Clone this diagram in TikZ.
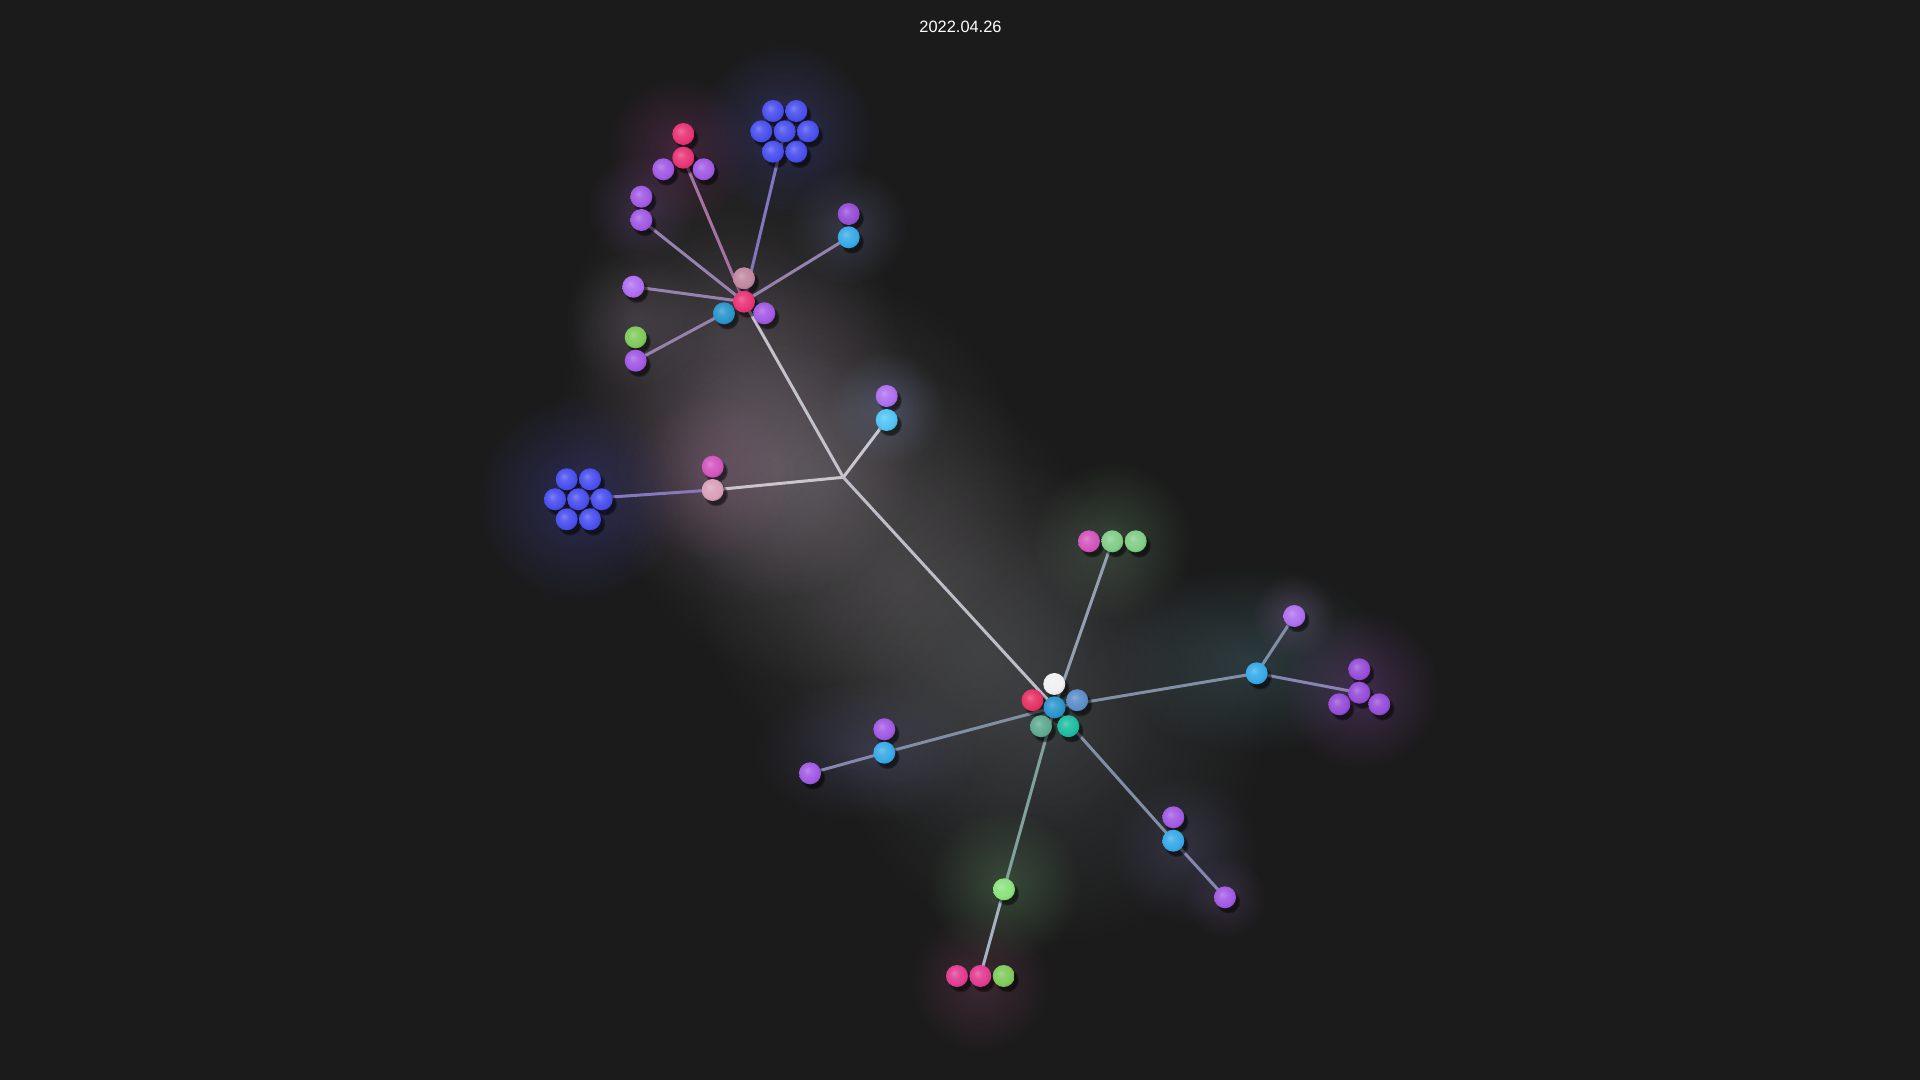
\documentclass[tikz,border=0pt]{standalone}
\usepackage{fontspec}
\setmainfont{Liberation Sans}
\usetikzlibrary{fadings,shadows}
\definecolor{bgc}{RGB}{27,27,27}
\colorlet{ballc}{white}
\pgfdeclareradialshading[ballc]{myball}{\pgfpoint{-7bp}{7bp}}{color(0bp)=(ballc!72!white); color(10bp)=(ballc!90!white); color(22bp)=(ballc); color(32bp)=(ballc!85!black); color(50bp)=(ballc!72!black)}
\tikzfading[name=glowfade, inner color=transparent!0, outer color=transparent!100]
\pgfdeclarelayer{bg}
\pgfdeclarelayer{glow}
\pgfdeclarelayer{links}
\pgfsetlayers{bg,glow,links,main}
% colours
\definecolor{cblue}{RGB}{74,80,238}
\definecolor{cpink}{RGB}{232,52,118}
\definecolor{cpurp}{RGB}{162,90,228}
\definecolor{cdpurp}{RGB}{150,78,215}
\definecolor{clpurp}{RGB}{175,110,240}
\definecolor{ccyan}{RGB}{56,170,232}
\definecolor{clcyan}{RGB}{82,195,245}
\definecolor{cmauve}{RGB}{192,136,158}
\definecolor{cgreen}{RGB}{128,202,92}
\definecolor{clgreen}{RGB}{140,226,125}
\definecolor{cmint}{RGB}{130,205,135}
\definecolor{cmag}{RGB}{210,85,190}
\definecolor{clpink}{RGB}{218,160,186}
\definecolor{cwhite}{RGB}{240,240,242}
\definecolor{csteel}{RGB}{92,142,200}
\definecolor{csage}{RGB}{95,170,145}
\definecolor{cteal}{RGB}{30,190,160}
\definecolor{chub}{RGB}{42,150,205}
\definecolor{cred}{RGB}{230,50,100}
\definecolor{crose}{RGB}{225,60,145}
\definecolor{lnpurp}{RGB}{150,130,175}
\definecolor{lntrunk}{RGB}{200,200,206}
\definecolor{lnblue}{RGB}{128,143,165}
% glow colours
\definecolor{gA}{RGB}{150,145,150}
\definecolor{gB}{RGB}{140,110,135}
\definecolor{gC}{RGB}{165,155,165}
\definecolor{gD}{RGB}{140,60,120}
\definecolor{gE}{RGB}{75,75,170}
\definecolor{gF}{RGB}{110,115,160}
\definecolor{gG}{RGB}{125,85,155}
\definecolor{gH}{RGB}{120,110,125}
\definecolor{gI}{RGB}{65,65,160}
\definecolor{gJ}{RGB}{160,105,145}
\definecolor{gK}{RGB}{115,135,175}
\definecolor{gL}{RGB}{115,155,115}
\definecolor{gM}{RGB}{75,115,125}
\definecolor{gN}{RGB}{125,70,155}
\definecolor{gO}{RGB}{145,115,165}
\definecolor{gP}{RGB}{100,110,115}
\definecolor{gQ}{RGB}{95,95,145}
\definecolor{gR}{RGB}{100,100,150}
\definecolor{gS}{RGB}{100,150,100}
\definecolor{gT}{RGB}{135,70,105}
\definecolor{gU}{RGB}{120,90,150}
\tikzset{
  ball/.style={circle, inner sep=0pt, minimum size=11pt, /utils/exec={\colorlet{ballc}{#1}}, shading=myball,
    drop shadow={shadow xshift=1.4pt, shadow yshift=-1.9pt, shadow scale=1.12, opacity=0.55, fill=black, path fading=circle with fuzzy edge 20 percent}},
  link/.style={line width=1.5pt, draw=#1, line cap=round},
  glow/.style={fill=#1, path fading=glowfade},
}
\begin{document}
\begin{tikzpicture}[x=0.5pt,y=-0.5pt]
\begin{pgfonlayer}{bg}
\fill[bgc] (0,0) rectangle (1920,1080);
\end{pgfonlayer}
\useasboundingbox (0,0) rectangle (1920,1080);
\node[text=white, font=\fontsize{8.2}{10}\selectfont] (title) at (960.5,26.5) {2022.04.26};
% ---- top group
\node[ball=cpink] (tpk1) at (683.3,134) {};
\node[ball=cpink] (tpk2) at (683.3,157.7) {};
\node[ball=cpurp] (tpu1) at (663.3,169.3) {};
\node[ball=cpurp] (tpu2) at (703.7,169.3) {};
\node[ball=cblue] (tb1) at (773,111) {};
\node[ball=cblue] (tb2) at (796.3,111) {};
\node[ball=cblue] (tb3) at (761.3,131.3) {};
\node[ball=cblue] (tb4) at (784.7,131.3) {};
\node[ball=cblue] (tb5) at (808,131.3) {};
\node[ball=cblue] (tb6) at (773,151.7) {};
\node[ball=cblue] (tb7) at (796.3,151.7) {};
\node[ball=cpurp] (tpa1) at (641.3,196.7) {};
\node[ball=cpurp] (tpa2) at (641.3,220) {};
\node[ball=cdpurp] (tr1) at (848.7,214) {};
\node[ball=ccyan] (tr2) at (848.7,237.3) {};
\node[ball=cmauve] (hm) at (744,278.3) {};
\node[ball=cpink] (hp) at (744,301.7) {};
\node[ball=chub] (hc) at (724,313.3) {};
\node[ball=cpurp] (hu) at (764.3,313.3) {};
\node[ball=clpurp] (ts) at (633.3,286.7) {};
\node[ball=cgreen] (tg) at (635.7,337.3) {};
\node[ball=cpurp] (tgp) at (635.7,360.7) {};
% ---- middle
\coordinate (jn) at (843.3,477.3);
\node[ball=clpurp] (mu) at (886.7,396) {};
\node[ball=clcyan] (mc) at (886.7,420) {};
\node[ball=cmag] (mmg) at (712.7,466.7) {};
\node[ball=clpink] (mlp) at (712.7,490) {};
\node[ball=cblue] (lb1) at (566.7,479.3) {};
\node[ball=cblue] (lb2) at (590,479.3) {};
\node[ball=cblue] (lb3) at (555,499.3) {};
\node[ball=cblue] (lb4) at (578.3,499.3) {};
\node[ball=cblue] (lb5) at (601.7,499.3) {};
\node[ball=cblue] (lb6) at (566.7,519.3) {};
\node[ball=cblue] (lb7) at (590,519.3) {};
% ---- bottom hub
\node[ball=cwhite] (bw) at (1054.3,684) {};
\node[ball=cred] (br) at (1032.5,700.2) {};
\node[ball=csteel] (bs) at (1077.2,700.2) {};
\node[ball=chub] (bc) at (1054.5,707.3) {};
\node[ball=csage] (bsg) at (1041,726.2) {};
\node[ball=cteal] (bt) at (1068.3,726.2) {};
\node[ball=cmag] (gm) at (1089,541.3) {};
\node[ball=cmint] (g1) at (1112.3,541.3) {};
\node[ball=cmint] (g2) at (1135.7,541.3) {};
\node[ball=ccyan] (rc) at (1256.7,673.3) {};
\node[ball=clpurp] (ru) at (1294.3,616) {};
\node[ball=cdpurp] (rc1) at (1359.3,669.3) {};
\node[ball=cdpurp] (rc2) at (1359.3,692.7) {};
\node[ball=cdpurp] (rc3) at (1339.3,704.3) {};
\node[ball=cdpurp] (rc4) at (1379.3,704.3) {};
\node[ball=cpurp] (lu) at (884.3,729.3) {};
\node[ball=ccyan] (lc) at (884.3,752.7) {};
\node[ball=cpurp] (lp) at (810,773.3) {};
\node[ball=clgreen] (dg) at (1004,889.3) {};
\node[ball=crose] (d1) at (957,976) {};
\node[ball=crose] (d2) at (980.3,976) {};
\node[ball=cgreen] (d3) at (1003.7,976) {};
\node[ball=cpurp] (eu) at (1173.3,817.3) {};
\node[ball=ccyan] (ec) at (1173.3,840.7) {};
\node[ball=cpurp] (ep) at (1225,897.3) {};
% ---- links
\begin{pgfonlayer}{links}
\draw[link=lnpurp!80!cpink] (hp.center) -- (tpk2.center);
\draw[link=lnpurp!75!cblue] (hp.center) -- (tb4.center);
\draw[link=lnpurp] (hp.center) -- (tpa2.center);
\draw[link=lnpurp] (hp.center) -- (ts.center);
\draw[link=lnpurp] (hp.center) -- (tr2.center);
\draw[link=lnpurp] (hc.center) -- (tgp.center);
\draw[link=lntrunk!90!lnpurp] (hp.center) -- (jn);
\draw[link=lntrunk] (jn) -- (mc.center);
\draw[link=lntrunk!90!clpink] (jn) -- (mlp.center);
\draw[link=lnpurp!80!cblue] (mlp.center) -- (lb4.center);
\draw[link=lntrunk!85!lnblue] (jn) -- (bc.center);
\draw[link=lnblue!85!white] (bc.center) -- (g1.center);
\draw[link=lnblue] (bc.center) -- (rc.center);
\draw[link=lnblue] (rc.center) -- (ru.center);
\draw[link=lnblue!80!cpurp] (rc.center) -- (rc2.center);
\draw[link=lnblue] (bc.center) -- (lc.center);
\draw[link=lnblue!85!cpurp] (lc.center) -- (lp.center);
\draw[link=lnblue!70!cmint] (bc.center) -- (dg.center);
\draw[link=lnblue!70!white] (dg.center) -- (d2.center);
\draw[link=lnblue] (bc.center) -- (ec.center);
\draw[link=lnblue!85!cpurp] (ec.center) -- (ep.center);
\end{pgfonlayer}
% ---- glows
\begin{pgfonlayer}{glow}
\fill[glow=gA, opacity=0.22] (730,330) circle (170);
\fill[glow=gB, opacity=0.28] (740,420) circle (190);
\fill[glow=gA, opacity=0.26] (820,480) circle (210);
\fill[glow=gA, opacity=0.22] (900,580) circle (210);
\fill[glow=gA, opacity=0.18] (980,650) circle (200);
\fill[glow=gC, opacity=0.22] (780,470) circle (130);
\fill[glow=gD, opacity=0.35] (680,150) circle (75);
\fill[glow=gE, opacity=0.38] (785,130) circle (90);
\fill[glow=gF, opacity=0.32] (848,226) circle (60);
\fill[glow=gG, opacity=0.30] (641,208) circle (55);
\fill[glow=gH, opacity=0.28] (634,320) circle (70);
\fill[glow=gI, opacity=0.42] (578,499) circle (105);
\fill[glow=gJ, opacity=0.28] (712,478) circle (85);
\fill[glow=gK, opacity=0.35] (886,408) circle (58);
\fill[glow=gL, opacity=0.30] (1112,541) circle (80);
\fill[glow=gM, opacity=0.36] (1250,660) ellipse [x radius=140, y radius=95];
\fill[glow=gN, opacity=0.38] (1360,690) circle (80);
\fill[glow=gO, opacity=0.30] (1294,616) circle (42);
\fill[glow=gP, opacity=0.30] (1050,730) circle (220);
\fill[glow=gQ, opacity=0.30] (865,752) ellipse [x radius=115, y radius=72];
\fill[glow=gR, opacity=0.28] (1185,850) circle (75);
\fill[glow=gS, opacity=0.35] (1004,885) circle (78);
\fill[glow=gT, opacity=0.32] (980,982) circle (72);
\fill[glow=gU, opacity=0.26] (1225,897) circle (42);
\end{pgfonlayer}
\end{tikzpicture}
\end{document}
